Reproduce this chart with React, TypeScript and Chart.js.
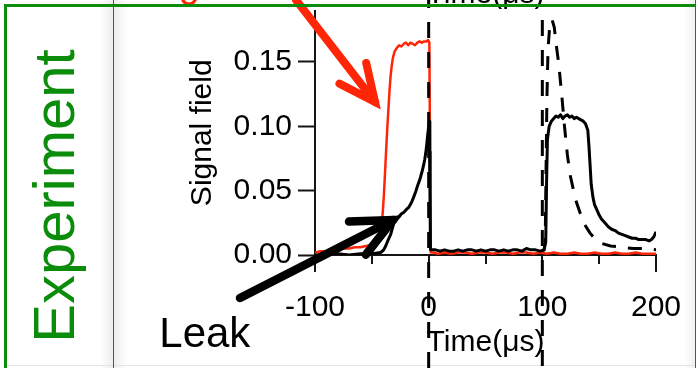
import React, { useEffect, useRef } from 'react';
import { Chart, registerables } from 'chart.js';

Chart.register(...registerables);

const FONT = "'Liberation Sans', Arial, Helvetica, sans-serif";
Chart.defaults.font.family = FONT;

// ---------------- data ----------------
// Red trace: signal field with storage (μs, field)
const redTime = [
  -100, -95, -90, -85, -80, -75, -70, -65, -60, -55, -50, -47, -45, -43, -41.5, -40.5, -39.5, -38.5,
  -37.5, -36.5, -35.5, -34.5, -33.5, -32.5, -31.5, -30, -28, -26, -24, -22, -20, -18, -16, -14, -12,
  -10, -8, -6, -4, -2, -0.5, 0.6, 1.2, 1.8,
  4, 8, 14, 20, 26, 32, 38, 44, 50, 56, 62, 68, 74, 80, 86, 92, 98, 104, 110, 116, 122, 128, 134,
  140, 146, 152, 158, 164, 170, 176, 182, 188, 194, 200,
];
const redSignal = [
  0.002, 0.003, 0.003, 0.004, 0.004, 0.005, 0.005, 0.006, 0.006, 0.007, 0.008, 0.009, 0.011, 0.016, 0.024, 0.032, 0.045, 0.062,
  0.080, 0.097, 0.112, 0.127, 0.139, 0.147, 0.153, 0.158, 0.161, 0.163, 0.162, 0.164, 0.165, 0.163, 0.165, 0.164, 0.163,
  0.165, 0.166, 0.165, 0.166, 0.166, 0.167, 0.165, 0.080, 0.002,
  0.002, 0.001, 0.002, 0.001, 0.002, 0.002, 0.001, 0.002, 0.002, 0.001, 0.002, 0.002, 0.001, 0.002, 0.002, 0.001, 0.002, 0.001, 0.002, 0.001, 0.001, 0.002, 0.001,
  0.001, 0.002, 0.001, 0.001, 0.002, 0.001, 0.001, 0.002, 0.001, 0.001, 0.001,
];

// Black solid trace: leak + retrieved signal
const blackTime = [
  -100, -90, -80, -70, -60, -50, -42, -39.6, -37.8, -35.5, -33.4, -31.5, -30, -28, -26, -24, -22, -20,
  -17.6, -15, -13.2, -11.5, -9.7, -8, -7, -5.5, -4.4, -3.5, -2.6, -1.8, -0.9, 0, 0.5, 1.0, 1.6,
  6, 10, 14, 18, 22, 26, 30, 34, 38, 42, 46, 50, 54, 58, 62, 66, 70, 74, 78, 82, 86, 90, 94, 98, 101.5,
  103, 103.8, 104.5, 106, 108, 110, 112, 114, 116, 118, 120, 122, 124, 126, 128, 130, 132, 134, 136, 138,
  140, 141, 142, 143, 144.5, 146, 148, 150, 152, 155, 158, 161, 164, 167, 170, 173, 176, 179, 182, 185,
  188, 191, 194, 196, 198, 200,
];
const blackSignal = [
  0.000, 0.000, 0.001, 0.000, 0.001, 0.001, 0.002, 0.004, 0.007, 0.012, 0.016, 0.022, 0.027, 0.029, 0.030, 0.032, 0.033, 0.035,
  0.037, 0.041, 0.045, 0.049, 0.054, 0.058, 0.061, 0.066, 0.070, 0.074, 0.079, 0.085, 0.093, 0.100, 0.104, 0.060, 0.004,
  0.004, 0.003, 0.004, 0.003, 0.003, 0.004, 0.003, 0.004, 0.004, 0.003, 0.004, 0.003, 0.004, 0.004, 0.003, 0.004, 0.003, 0.004, 0.004, 0.003, 0.005, 0.004, 0.004, 0.003, 0.004,
  0.010, 0.060, 0.090, 0.100, 0.104, 0.106, 0.108, 0.107, 0.109, 0.106, 0.108, 0.109, 0.107, 0.108, 0.106, 0.107, 0.106, 0.105, 0.104, 0.102,
  0.097, 0.085, 0.070, 0.055, 0.045, 0.039, 0.035, 0.031, 0.028, 0.025, 0.022, 0.020, 0.019, 0.017, 0.016, 0.015, 0.014, 0.013, 0.013, 0.012,
  0.012, 0.012, 0.011, 0.012, 0.014, 0.018,
];

// Black dashed trace: retrieved signal without leak
const dashTime = [
  100, 101.5, 102.5, 103.2, 104, 105, 106.5, 108.5, 110.5, 112, 114.5, 117, 119.5, 122, 124.5, 127,
  130, 133.5, 137, 142, 147, 152, 160, 170, 180, 190, 200,
];
const dashSignal = [
  0.003, 0.004, 0.010, 0.060, 0.120, 0.160, 0.178, 0.183, 0.177, 0.165, 0.148, 0.125, 0.100, 0.078, 0.062, 0.052,
  0.041, 0.032, 0.024, 0.017, 0.012, 0.009, 0.007, 0.006, 0.005, 0.005, 0.004,
];

const xMajorTicks = [-100, 0, 100, 200];
const xMinorTicks = [-50, 50, 150];
const yTicks = [0, 0.05, 0.1, 0.15];
const markerTimes = [0, 100];

const xTitle = 'Time(μs)';
const yTitle = 'Signal field';
const panelLabel = 'Experiment';
const leakLabel = 'Leak';
const storageLabel = 'Storage';
// annotation anchors in data coordinates (time, field)
const leakAnchor = [-237, -0.0715];
const leakArrow = { from: [-166, -0.0334], to: [-31.4, 0.0272] };
const storageArrow = { from: [-116.7, 0.1982], to: [-47.2, 0.1189] };

// ---------------- styles ----------------
const RED = 'rgb(255, 38, 8)';
const GREEN = '#0b8c0b';
const BLUE = '#3248ff';
const AXIS = '#151515';
const FS = 30;

function drawArrow(ctx: CanvasRenderingContext2D, x0: number, y0: number, x1: number, y1: number, color: string, w: number, wing: number) {
  const ang = Math.atan2(y0 - y1, x0 - x1);
  const spread = (25 * Math.PI) / 180;
  ctx.save();
  ctx.strokeStyle = color;
  ctx.lineWidth = w;
  ctx.lineCap = 'round';
  ctx.lineJoin = 'miter';
  ctx.beginPath();
  ctx.moveTo(x0, y0);
  ctx.lineTo(x1, y1);
  ctx.stroke();
  ctx.beginPath();
  ctx.moveTo(x1 + wing * Math.cos(ang + spread), y1 + wing * Math.sin(ang + spread));
  ctx.lineTo(x1, y1);
  ctx.lineTo(x1 + wing * Math.cos(ang - spread), y1 + wing * Math.sin(ang - spread));
  ctx.stroke();
  ctx.restore();
}

const decor = {
  id: 'decor',
  beforeDraw(chart: any) {
    const { ctx, width, height } = chart;
    ctx.save();
    ctx.fillStyle = '#ffffff';
    ctx.fillRect(0, 0, width, height);
    let g = ctx.createLinearGradient(100, 0, 113, 0);
    g.addColorStop(0, 'rgba(0,0,0,0)');
    g.addColorStop(1, 'rgba(0,0,0,0.07)');
    ctx.fillStyle = g;
    ctx.fillRect(100, 0, 13, height);
    g = ctx.createLinearGradient(114, 0, 128, 0);
    g.addColorStop(0, 'rgba(0,0,0,0.07)');
    g.addColorStop(1, 'rgba(0,0,0,0)');
    ctx.fillStyle = g;
    ctx.fillRect(114, 0, 14, height);
    g = ctx.createLinearGradient(684, 0, 695, 0);
    g.addColorStop(0, 'rgba(0,0,0,0)');
    g.addColorStop(1, 'rgba(0,0,0,0.06)');
    ctx.fillStyle = g;
    ctx.fillRect(684, 0, 11, height);
    ctx.strokeStyle = '#e4e4e4';
    ctx.lineWidth = 1;
    ctx.beginPath();
    ctx.moveTo(7, 365.5);
    ctx.lineTo(694, 365.5);
    ctx.stroke();
    ctx.restore();
  },
  afterDraw(chart: any) {
    const { ctx, height, chartArea } = chart;
    const xs = chart.scales.x;
    const ys = chart.scales.y;
    ctx.save();

    // x-axis tick marks (major and minor)
    ctx.strokeStyle = AXIS;
    ctx.lineWidth = 2;
    ctx.beginPath();
    for (const t of xMajorTicks) {
      const px = Math.round(xs.getPixelForValue(t));
      ctx.moveTo(px, chartArea.bottom);
      ctx.lineTo(px, chartArea.bottom + 17);
    }
    for (const t of xMinorTicks) {
      const px = Math.round(xs.getPixelForValue(t));
      ctx.moveTo(px, chartArea.bottom);
      ctx.lineTo(px, chartArea.bottom + 9);
    }
    ctx.stroke();

    // dashed time markers running through the whole figure
    ctx.strokeStyle = '#000';
    ctx.lineWidth = 3;
    ctx.setLineDash([16, 14]);
    for (const t of markerTimes) {
      const px = xs.getPixelForValue(t);
      ctx.beginPath();
      ctx.moveTo(px, t === 0 ? -8 : 20);
      ctx.lineTo(px, height);
      ctx.stroke();
    }
    ctx.setLineDash([]);

    // arrows
    drawArrow(ctx,
      xs.getPixelForValue(leakArrow.from[0]), ys.getPixelForValue(leakArrow.from[1]),
      xs.getPixelForValue(leakArrow.to[0]), ys.getPixelForValue(leakArrow.to[1]), '#000', 8.5, 44);
    drawArrow(ctx,
      xs.getPixelForValue(storageArrow.from[0]), ys.getPixelForValue(storageArrow.from[1]),
      xs.getPixelForValue(storageArrow.to[0]), ys.getPixelForValue(storageArrow.to[1]), RED, 8, 40);

    // Leak label
    ctx.fillStyle = '#000';
    ctx.font = `42px ${FONT}`;
    ctx.textAlign = 'left';
    ctx.textBaseline = 'alphabetic';
    ctx.fillText(leakLabel, xs.getPixelForValue(leakAnchor[0]), ys.getPixelForValue(leakAnchor[1]));

    // cut-off labels from the panel above
    ctx.font = `${FS}px ${FONT}`;
    ctx.textAlign = 'center';
    ctx.fillText(xTitle, (xs.left + xs.right) / 2, 3);
    ctx.fillStyle = RED;
    ctx.font = `38px ${FONT}`;
    ctx.textAlign = 'left';
    ctx.fillText(storageLabel, 88, -3);

    // frame
    ctx.strokeStyle = BLUE;
    ctx.lineWidth = 1;
    ctx.beginPath();
    ctx.moveTo(113.5, 0);
    ctx.lineTo(113.5, height);
    ctx.moveTo(695.5, 0);
    ctx.lineTo(695.5, height);
    ctx.stroke();
    ctx.strokeStyle = GREEN;
    ctx.lineWidth = 3;
    ctx.beginPath();
    ctx.moveTo(5.5, height);
    ctx.lineTo(5.5, 5.5);
    ctx.lineTo(695, 5.5);
    ctx.stroke();

    // panel label
    ctx.translate(74, 196);
    ctx.rotate(-Math.PI / 2);
    ctx.fillStyle = GREEN;
    ctx.font = `58px ${FONT}`;
    ctx.textAlign = 'center';
    ctx.textBaseline = 'alphabetic';
    ctx.fillText(panelLabel, 0, 0);
    ctx.restore();
  },
};

export default function App() {
  const ref = useRef<HTMLCanvasElement>(null);
  useEffect(() => {
    const canvas = ref.current!;
    const toXY = (t: number[], v: number[]) => t.map((x, i) => ({ x, y: v[i] }));
    const chart = new Chart(canvas, {
      type: 'line',
      data: {
        datasets: [
          { label: 'Storage', data: toXY(redTime, redSignal), borderColor: RED, borderWidth: 2.5, order: 1 },
          { label: 'Leak', data: toXY(blackTime, blackSignal), borderColor: '#000', borderWidth: 3, order: 0 },
          { label: 'Reference', data: toXY(dashTime, dashSignal), borderColor: '#000', borderWidth: 3, borderDash: [14, 12], order: 2 },
        ],
      },
      options: {
        responsive: false,
        animation: false,
        devicePixelRatio: 1,
        layout: { padding: { left: 181, right: 42, top: 10.5, bottom: 0 } },
        elements: {
          point: { radius: 0 },
          line: { tension: 0, borderJoinStyle: 'round', borderCapStyle: 'butt', fill: false },
        },
        plugins: { legend: { display: false }, tooltip: { enabled: false } },
        scales: {
          x: {
            type: 'linear',
            min: -100,
            max: 200,
            afterBuildTicks: (s: any) => { s.ticks = xMajorTicks.map((value) => ({ value })); },
            afterFit: (s: any) => { s.height = 113; s.paddingLeft = 0; s.paddingRight = 0; },
            grid: { display: false },
            border: { display: true, color: AXIS, width: 2 },
            ticks: { padding: 26.6, color: '#000', font: { size: FS }, maxRotation: 0, autoSkip: false, callback: (v: any) => String(v) },
            title: { display: true, text: xTitle, color: '#000', font: { size: FS }, padding: { top: 4, bottom: 7.4 } },
          },
          y: {
            type: 'linear',
            min: 0,
            max: 0.19,
            afterBuildTicks: (s: any) => { s.ticks = yTicks.map((value) => ({ value })); },
            afterFit: (s: any) => { s.width = 134; s.paddingTop = 0; s.paddingBottom = 0; },
            grid: { drawOnChartArea: false, drawTicks: true, tickLength: 17, tickWidth: 2, tickColor: AXIS, color: AXIS },
            border: { display: true, color: AXIS, width: 2 },
            ticks: { padding: 6, color: '#000', font: { size: FS }, callback: (v: any) => Number(v).toFixed(2) },
            title: { display: true, text: yTitle, color: '#000', font: { size: FS }, padding: { top: 4, bottom: 4 } },
          },
        },
      },
      plugins: [decor],
    } as any);
    return () => chart.destroy();
  }, []);
  return (
    <div style={{ position: 'absolute', left: 0, top: 0, width: 698, height: 368 }}>
      <canvas ref={ref} width={698} height={368} style={{ display: 'block', width: 698, height: 368 }} />
    </div>
  );
}
